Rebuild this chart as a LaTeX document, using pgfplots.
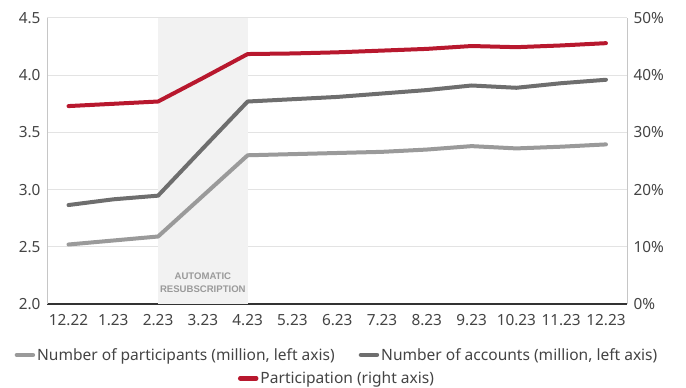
\documentclass[border=0pt]{standalone}
\usepackage{fontspec}
\setmainfont{Noto Sans}
\newfontfamily\labf{Liberation Sans}
\usepackage{pgfplots}
\pgfplotsset{compat=1.18}
\definecolor{redc}{HTML}{B8182E}
\definecolor{dg}{HTML}{6E6E6E}
\definecolor{lg}{HTML}{9A9A9A}
\definecolor{txt}{HTML}{444444}
\definecolor{gridc}{HTML}{E3E3E3}
\definecolor{shadec}{HTML}{F2F2F2}
\pgfplotsset{
  common/.style={
    at={(0,0)}, anchor=south west,
    scale only axis, width=580bp, height=286bp,
    xmin=-0.48, xmax=12.47,
    major tick length=0pt,
    tick label style={text=txt, font=\fontsize{15.4}{17}\selectfont},
    /pgf/number format/assume math mode=true,
    legend image code/.code={\draw[##1, line width=4.5bp, line cap=round] (0bp,0bp) -- (16bp,0bp);},
  },
}
\begin{document}
\begin{tikzpicture}[font=\fontsize{15.6}{17}\selectfont]
\begin{axis}[common,
  set layers,
  ymin=2, ymax=4.5,
  xtick={0,...,12},
  xticklabels={12.22,1.23,2.23,3.23,4.23,5.23,6.23,7.23,8.23,9.23,10.23,11.23,12.23},
  xticklabel style={yshift=-7bp},
  ytick={2,2.5,3,3.5,4,4.5},
  /pgf/number format/fixed, /pgf/number format/fixed zerofill, /pgf/number format/precision=1,
  yticklabel style={xshift=-3bp},
  ymajorgrids, grid style={draw=gridc, line width=1bp},
  axis x line*=bottom, axis y line*=left,
  x axis line style={draw=black!80, line width=1.3bp},
  y axis line style={draw=gray!45, line width=0.8bp},
  legend style={at={(0.5,-0.14)}, anchor=north, draw=none, fill=none,
    legend columns=2, font=\fontsize{15.6}{17}\selectfont, text=txt,
    /tikz/every even column/.append style={column sep=22bp}},
]
\fill[shadec, on layer=axis background] (axis cs:2,2) rectangle (axis cs:4,4.5);
\node[font=\labf\bfseries\fontsize{9.6}{13}\selectfont, text=lg, align=center] at (axis cs:3,2.185) {AUTOMATIC\\RESUBSCRIPTION};
\addplot[lg, line width=4bp, line cap=round, line join=round] coordinates {
(0,2.52) (1,2.555) (2,2.59) (3,2.945) (4,3.30) (5,3.31) (6,3.32) (7,3.33) (8,3.35) (9,3.38) (10,3.36) (11,3.375) (12,3.395)};
\addlegendentry{Number of participants (million, left axis)}
\addplot[dg, line width=4bp, line cap=round, line join=round] coordinates {
(0,2.865) (1,2.915) (2,2.947) (3,3.36) (4,3.77) (5,3.79) (6,3.81) (7,3.84) (8,3.87) (9,3.91) (10,3.89) (11,3.93) (12,3.96)};
\addlegendentry{Number of accounts (million, left axis)}
\end{axis}
\begin{axis}[common,
  ymin=0, ymax=50,
  ytick={0,10,20,30,40,50},
  yticklabel={\pgfmathprintnumber[fixed,precision=0]{\tick}\%},
  yticklabel style={xshift=3bp},
  axis y line*=right, axis x line=none,
  y axis line style={draw=gray!45, line width=0.8bp},
  legend style={at={(0.5,-0.222)}, anchor=north, draw=none, fill=none,
    font=\fontsize{15.6}{17}\selectfont, text=txt},
]
\addplot[redc, line width=4bp, line cap=round, line join=round] coordinates {
(0,34.6) (1,35.0) (2,35.4) (3,39.5) (4,43.7) (5,43.8) (6,44.0) (7,44.3) (8,44.6) (9,45.1) (10,44.9) (11,45.2) (12,45.6)};
\addlegendentry{Participation (right axis)}
\end{axis}
\pgfresetboundingbox
\path[use as bounding box] (-47bp,-84bp) rectangle (639bp,304bp);
\end{tikzpicture}
\end{document}
